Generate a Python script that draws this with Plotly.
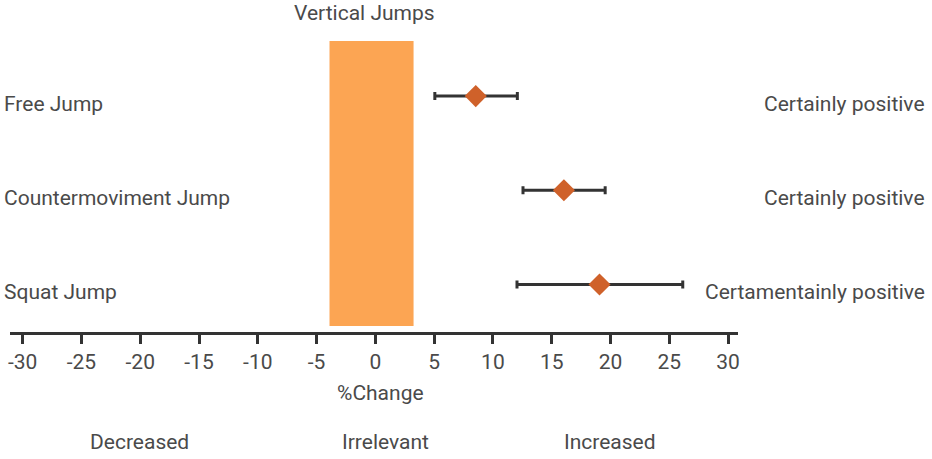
import plotly.graph_objects as go

categories = ["Free Jump", "Countermoviment Jump", "Squat Jump"]
cat_pos = [3, 2, 1]
means = [8.54, 16.04, 19.07]
ci_low = [5.06, 12.56, 12.05]
ci_high = [12.08, 19.55, 26.15]
verdicts = ["Certainly positive", "Certainly positive", "Certamentainly positive"]
irrelevant_zone = [-3.9, 3.25]
tick_vals = [-30, -25, -20, -15, -10, -5, 0, 5, 10, 15, 20, 25, 30]
zone_labels = ["Decreased", "Irrelevant", "Increased"]
zone_label_x = [-20.1, 0.9, 20.0]

FONT = "Roboto"
TXT = "#4a4a4a"
FS = 21

fig = go.Figure()

fig.add_shape(type="rect", xref="x", yref="paper",
              x0=irrelevant_zone[0], x1=irrelevant_zone[1], y0=0.021, y1=1.0,
              fillcolor="#fca553", line=dict(width=0), layer="below")

fig.add_trace(go.Scatter(
    x=means, y=cat_pos, mode="markers",
    marker=dict(symbol="diamond", size=17, color="#cf612a",
                line=dict(width=0)),
    error_x=dict(type="data", symmetric=False,
                 array=[h - m for h, m in zip(ci_high, means)],
                 arrayminus=[m - l for m, l in zip(means, ci_low)],
                 color="#333333", thickness=3, width=4),
    showlegend=False, hoverinfo="skip"))

annotations = []
for c, y, v in zip(categories, cat_pos, verdicts):
    annotations.append(dict(text=c, xref="paper", x=-0.011, xanchor="left",
                            yref="y", y=y, yanchor="middle", yshift=-8,
                            showarrow=False, font=dict(family=FONT, size=FS, color=TXT)))
    annotations.append(dict(text=v, xref="paper", x=1.259, xanchor="right",
                            yref="y", y=y, yanchor="middle", yshift=-8,
                            showarrow=False, font=dict(family=FONT, size=FS, color=TXT)))
for t, x in zip(zone_labels, zone_label_x):
    annotations.append(dict(text=t, xref="x", x=x, xanchor="center",
                            yref="paper", y=-0.378, yanchor="middle",
                            showarrow=False, font=dict(family=FONT, size=FS, color=TXT)))
annotations.append(dict(text="%Change", xref="x", x=0.4, xanchor="center",
                        yref="paper", y=-0.208, yanchor="middle",
                        showarrow=False, font=dict(family=FONT, size=FS, color=TXT)))
annotations.append(dict(text="Vertical Jumps", xref="x", x=-0.9, xanchor="center",
                        yref="paper", y=1.096, yanchor="middle",
                        showarrow=False, font=dict(family=FONT, size=FS, color=TXT)))

fig.update_layout(
    width=932, height=459,
    margin=dict(l=8, r=194, t=41, b=127),
    plot_bgcolor="white", paper_bgcolor="white",
    annotations=annotations,
    xaxis=dict(range=[-31.08, 30.85], tickvals=tick_vals,
               ticktext=[str(v) for v in tick_vals],
               showgrid=False, zeroline=False,
               showline=True, linecolor="#333333", linewidth=3,
               ticks="outside", ticklen=9, tickwidth=3, tickcolor="#333333",
               tickfont=dict(family=FONT, size=FS, color=TXT)),
    yaxis=dict(range=[0.495, 3.585], visible=False, showgrid=False, zeroline=False),
)

fig.write_html("out.html")
